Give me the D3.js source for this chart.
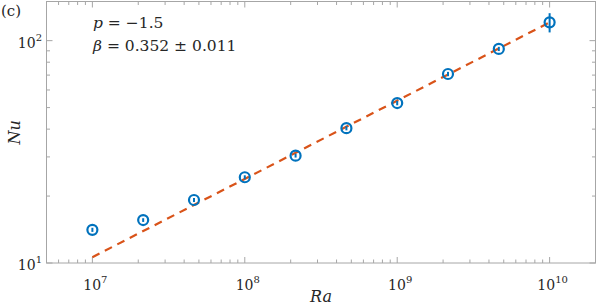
<!DOCTYPE html>
<html>
<head>
<meta charset="utf-8">
<script src="https://cdn.jsdelivr.net/npm/d3@7"></script>
<style>
  body { margin: 0; background: #fff; }
  svg text { font-family: 'DejaVu Serif', serif; fill: #262626; }
</style>
</head>
<body>
<svg width="598" height="308"></svg>
<script>
// Ra values (1/3 decade steps) and measured Nu with error bars
const RA = [1e7, 2.154e7, 4.642e7, 1e8, 2.154e8, 4.642e8, 1e9, 2.154e9, 4.642e9, 1e10];
const NU = [14.1, 15.6, 19.2, 24.3, 30.4, 40.4, 52.4, 70.8, 91.8, 120.9];
const NU_ERR = [0.3, 0.3, 0.4, 0.5, 0.6, 0.9, 1.2, 1.6, 2.0, 12];
// fitted power law Nu = C * Ra^beta
const FIT_BETA = 0.352;
const FIT_C = 0.0365;
const FIT_RANGE = [1e7, 1e10];
const X_MAJOR = [1e7, 1e8, 1e9, 1e10];
const Y_MAJOR = [10, 100];
const Y_MINOR = [20, 30, 40, 50, 60, 70, 80, 90];

const pLeft = 46.5, pRight = 595.5, pTop = 1.5, pBottom = 263;
const svg = d3.select('svg');

const x = d3.scaleLog().domain([5e6, 2e10]).range([pLeft, pRight]);
const y = d3.scaleLog().domain([10, 150]).range([pBottom, pTop]);

// minor x ticks: every 1..9 multiple inside the domain, minus the majors
const xMinor = x.ticks().filter(t => !X_MAJOR.includes(t) && t > 5e6 && t < 2e10);

const axisColor = '#a6a6a6';
const g = svg.append('g');

// ticks, pointing inward, on all four sides
function tickLines(vals, len, horizontal) {
    vals.forEach(v => {
        if (horizontal) {
            g.append('line').attr('x1', x(v)).attr('x2', x(v)).attr('y1', pBottom).attr('y2', pBottom - len)
                .attr('stroke', axisColor);
            g.append('line').attr('x1', x(v)).attr('x2', x(v)).attr('y1', pTop).attr('y2', pTop + len)
                .attr('stroke', axisColor);
        } else {
            g.append('line').attr('y1', y(v)).attr('y2', y(v)).attr('x1', pLeft).attr('x2', pLeft + len)
                .attr('stroke', axisColor);
            g.append('line').attr('y1', y(v)).attr('y2', y(v)).attr('x1', pRight).attr('x2', pRight - len)
                .attr('stroke', axisColor);
        }
    });
}
tickLines(X_MAJOR, 6, true);
tickLines(xMinor, 3.5, true);
tickLines(Y_MAJOR, 6, false);
tickLines(Y_MINOR, 3.5, false);

g.append('rect').attr('x', pLeft).attr('y', pTop).attr('width', pRight - pLeft).attr('height', pBottom - pTop)
    .attr('fill', 'none').attr('stroke', axisColor);

// tick labels 10^n
X_MAJOR.forEach(v => {
    const t = svg.append('text').attr('x', x(v) + 3).attr('y', 290).attr('text-anchor', 'middle')
        .style('font-size', '14px');
    t.append('tspan').text('10');
    t.append('tspan').attr('dy', -7).style('font-size', '10px').text(Math.round(Math.log10(v)));
});
Y_MAJOR.forEach(v => {
    const t = svg.append('text').attr('x', 42).attr('y', y(v) + 7).attr('text-anchor', 'end')
        .style('font-size', '14px');
    t.append('tspan').text('10');
    t.append('tspan').attr('dy', -7).style('font-size', '10px').text(Math.round(Math.log10(v)));
});

// axis labels
svg.append('text').attr('x', (pLeft + pRight) / 2).attr('y', 302).attr('text-anchor', 'middle')
    .style('font-size', '16px').style('font-style', 'italic').text('Ra');
svg.append('text').attr('transform', `translate(20,${(pTop + pBottom) / 2}) rotate(-90)`)
    .attr('text-anchor', 'middle').style('font-size', '16px').style('font-style', 'italic').text('Nu');

// panel tag and annotation
svg.append('text').attr('x', 1).attr('y', 16).style('font-size', '15px').text('(c)');
const a1 = svg.append('text').attr('x', 93).attr('y', 28).style('font-size', '15.5px');
a1.append('tspan').style('font-style', 'italic').text('p');
a1.append('tspan').text(' = \u22121.5');
const a2 = svg.append('text').attr('x', 93).attr('y', 51).style('font-size', '15.5px');
a2.append('tspan').style('font-style', 'italic').text('\u03b2');
a2.append('tspan').text(' = 0.352 \u00b1 0.011');

// fit line
const fitData = FIT_RANGE.map(r => [r, FIT_C * Math.pow(r, FIT_BETA)]);
svg.append('path')
    .attr('d', d3.line().x(d => x(d[0])).y(d => y(d[1]))(fitData))
    .attr('fill', 'none').attr('stroke', '#D95319').attr('stroke-width', 2.2)
    .attr('stroke-dasharray', '8,6');

// data with error bars
const pts = RA.map((r, i) => ({ ra: r, nu: NU[i], err: NU_ERR[i] }));
const blue = '#0072BD';
svg.selectAll('.err').data(pts).enter().append('line').classed('err', true)
    .attr('x1', d => x(d.ra)).attr('x2', d => x(d.ra))
    .attr('y1', d => y(d.nu - d.err)).attr('y2', d => y(d.nu + d.err))
    .attr('stroke', blue).attr('stroke-width', 2);
svg.selectAll('.pt').data(pts).enter().append('circle').classed('pt', true)
    .attr('cx', d => x(d.ra)).attr('cy', d => y(d.nu)).attr('r', 5)
    .attr('fill', 'none').attr('stroke', blue).attr('stroke-width', 2.2);
</script>
</body>
</html>
